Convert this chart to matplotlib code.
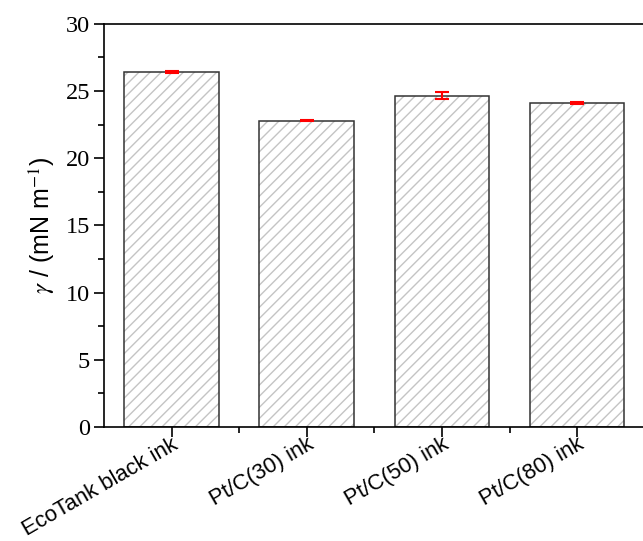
import numpy as np
import matplotlib.pyplot as plt

# surface tension of the inks
inks = ['EcoTank black ink', 'Pt/C(30) ink', 'Pt/C(50) ink', 'Pt/C(80) ink']
gamma = [26.4, 22.8, 24.65, 24.1]
gamma_err = [0.05, 0.05, 0.25, 0.05]

plt.rcParams['hatch.linewidth'] = 1.0
plt.rcParams['mathtext.fontset'] = 'stix'

fig = plt.figure(figsize=(6.43, 5.41), dpi=100)
ax = fig.add_axes([0.1617, 0.211, 0.841, 0.745])

x = np.arange(1, len(inks) + 1)
# light grey hatch first, then the dark outline on top
ax.bar(x, gamma, width=0.7, color='white', edgecolor='#c4c4c4',
       linewidth=0, hatch='///', zorder=2)
ax.bar(x, gamma, width=0.7, color='none', edgecolor='#333333',
       linewidth=1.1, zorder=2)
ax.errorbar(x, gamma, yerr=gamma_err, fmt='none', ecolor='red',
            elinewidth=1.5, capsize=5, capthick=1.5, zorder=3)

ax.set_xlim(0.5, 4.5)
ax.set_ylim(0, 30)
ax.set_yticks(np.arange(0, 31, 5))
ax.set_yticks(np.arange(0, 30.1, 2.5), minor=True)
ax.set_xticks(x)
ax.set_xticks(x[:-1] + 0.5, minor=True)
ax.set_xticklabels(inks, rotation=30, ha='right', rotation_mode='anchor',
                   family='Liberation Sans', fontsize=15.8)
for lab in ax.get_yticklabels():
    lab.set_family('Liberation Serif')
    lab.set_fontsize(17.5)

ax.tick_params(which='major', direction='out', length=7, width=1.2)
ax.tick_params(which='minor', direction='out', length=4, width=1.2)
ax.tick_params(axis='x', which='major', pad=-2)
ax.tick_params(axis='y', pad=3)
for s in ax.spines.values():
    s.set_linewidth(1.2)

ax.set_ylabel(r'$\gamma$ / (mN m$^{-1}$)', family='Liberation Sans',
              fontsize=18, labelpad=6)

fig.savefig('out.png', dpi=100)
